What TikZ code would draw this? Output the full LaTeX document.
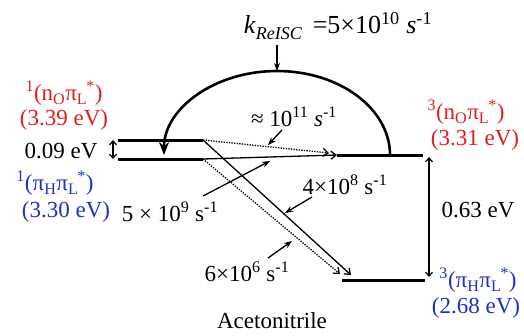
\documentclass[tikz,border=0pt]{standalone}
\usepackage{fontspec}
\setmainfont{Liberation Serif}
\usetikzlibrary{arrows.meta}
\definecolor{myred}{RGB}{222,30,35}
\definecolor{myblue}{RGB}{30,50,190}
\newcommand\ssup[2]{\textsubscript{#1}\kern-1pt\textsuperscript{#2}}
\begin{document}
\begin{tikzpicture}[x=1pt,y=-1pt,
  lbl/.style={font=\fontsize{23}{26}\selectfont, inner sep=0pt},
  level/.style={line width=3pt},
  trans/.style={line width=1.3pt, -{Straight Barb[length=5pt,width=8pt]}},
  dots/.style={trans, dash pattern=on 1.3pt off 1.3pt},
  pointer/.style={line width=1.3pt, -{Stealth[length=8pt,width=6pt]}},
  gap/.style={line width=1.2pt, {Straight Barb[length=4pt,width=7pt]}-{Straight Barb[length=4pt,width=7pt]}},
  bigarc/.style={line width=2.6pt, -{Stealth[length=13pt,width=10pt]}}]
\useasboundingbox (0,0) rectangle (524,335);
% levels
\coordinate (s1aL) at (118,140); \coordinate (s1aR) at (203,140);
\coordinate (s1bL) at (118,159); \coordinate (s1bR) at (203,159);
\coordinate (t1L) at (337,155); \coordinate (t1R) at (423,155);
\coordinate (t2L) at (342,280); \coordinate (t2R) at (425,280);
\draw[level] (s1aL) -- (s1aR);
\draw[level] (s1bL) -- (s1bR);
\draw[level] (t1L) -- (t1R);
\draw[level] (t2L) -- (t2R);
% energy gaps
\coordinate (g1a) at (113,140); \coordinate (g1b) at (113,159);
\draw[gap] (g1a) -- (g1b);
\coordinate (g2a) at (429,157); \coordinate (g2b) at (429,277);
\draw[gap] (g2a) -- (g2b);
% transitions
\coordinate (t1in) at (329,153);
\coordinate (t2inA) at (351,275);
\coordinate (t2inB) at (340,274);
\draw[dots] (s1aR) -- (t1in);
\draw[trans] (s1bR) -- (t1L);
\draw[trans] (s1aR) -- (t2inA);
\draw[dots] (s1bR) -- (t2inB);
% ReISC arc
\coordinate (arcstart) at (390,155);
\draw[bigarc] (arcstart) arc[start angle=0, end angle=-180, x radius=113, y radius=84];
% labels
\node[lbl, font=\fontsize{26}{28}\selectfont] (krisc) at (338,26) {\textit{k}\raisebox{-6pt}{\fontsize{18}{20}\selectfont\textit{ReISC}}\, =5×10\textsuperscript{10} \textit{s}\textsuperscript{-1}};
\coordinate (arctop) at (277,71);
\coordinate (kp) at (277,45);
\draw[pointer] (kp) -- (arctop);
\node[lbl] (k11) at (294,117) {≈ 10\textsuperscript{11} \textit{s}\textsuperscript{-1}};
\coordinate (p11) at (282,130); \coordinate (p11e) at (268,145);
\draw[pointer] (p11) -- (p11e);
\node[lbl] (k9) at (170,212) {5 × 10\textsuperscript{9} s\textsuperscript{-1}};
\coordinate (p9) at (203,196); \coordinate (p9e) at (270,161);
\draw[pointer] (p9) -- (p9e);
\node[lbl] (k8) at (345,185) {4×10\textsuperscript{8} s\textsuperscript{-1}};
\coordinate (p8) at (312,197); \coordinate (p8e) at (285,213);
\draw[pointer] (p8) -- (p8e);
\node[lbl] (k6) at (247,272) {6×10\textsuperscript{6} s\textsuperscript{-1}};
\coordinate (p6) at (268,258); \coordinate (p6e) at (292,241);
\draw[pointer] (p6) -- (p6e);
% state labels left
\node[lbl, text=myred] (s1n) at (64,93) {\textsuperscript{1}(n\textsubscript{O}π\ssup{L}{*})};
\node[lbl, text=myred] (s1nE) at (64,120) {(3.39 eV)};
\node[lbl] (g1) at (61,151) {0.09 eV};
\node[lbl, text=myblue] (s1p) at (55,183) {\textsuperscript{1}(π\textsubscript{H}π\ssup{L}{*})};
\node[lbl, text=myblue] (s1pE) at (66,212) {(3.30 eV)};
% state labels right
\node[lbl, text=myred] (t1n) at (466,112) {\textsuperscript{3}(n\textsubscript{O}π\ssup{L}{*})};
\node[lbl, text=myred] (t1nE) at (475,140) {(3.31 eV)};
\node[lbl] (g2) at (478,210) {0.63 eV};
\node[lbl, text=myblue] (t2p) at (478,280) {\textsuperscript{3}(π\textsubscript{H}π\ssup{L}{*})};
\node[lbl, text=myblue] (t2pE) at (476,308) {(2.68 eV)};
\node[lbl] (solv) at (272,321) {Acetonitrile};
\end{tikzpicture}
\end{document}
